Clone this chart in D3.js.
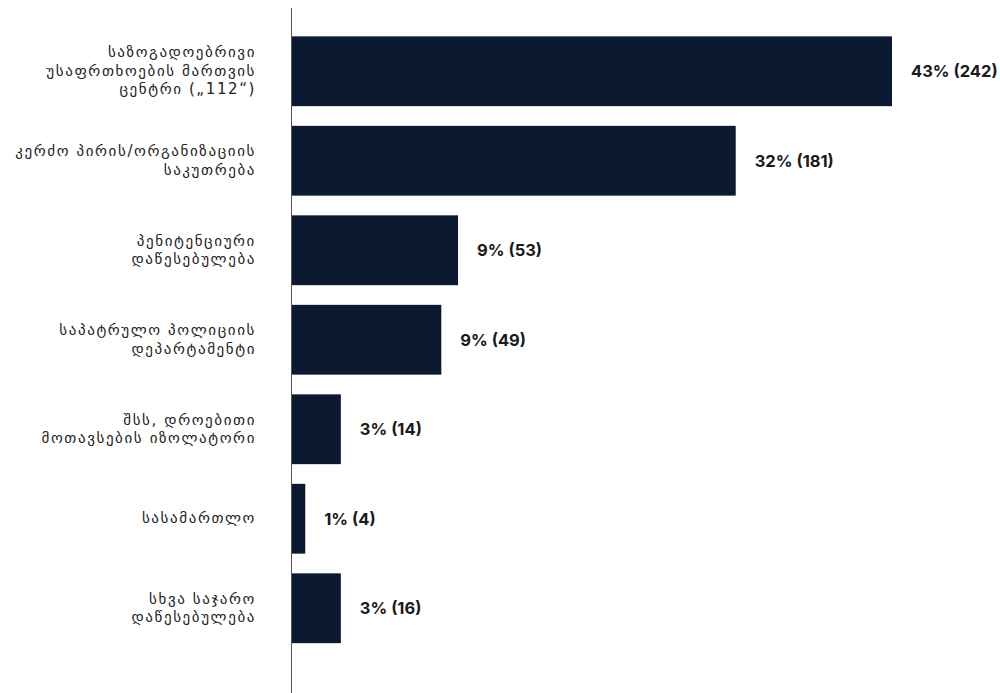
<!DOCTYPE html>
<html>
<head>
<meta charset="utf-8">
<script src="https://cdn.jsdelivr.net/npm/d3@7/dist/d3.min.js"></script>
<style>
  html, body { margin: 0; padding: 0; background: #ffffff; }
  svg { display: block; }
</style>
</head>
<body>
<svg id="chart" width="1000" height="693"></svg>
<script>
// Categories (line breaks marked with "\n")
const categories = [
  "საზოგადოებრივი\nუსაფრთხოების მართვის\nცენტრი („112“)",
  "კერძო პირის/ორგანიზაციის\nსაკუთრება",
  "პენიტენციური\nდაწესებულება",
  "საპატრულო პოლიციის\nდეპარტამენტი",
  "შსს, დროებითი\nმოთავსების იზოლატორი",
  "სასამართლო",
  "სხვა საჯარო\nდაწესებულება"
];
// Shown percentages and counts
const percents = [43, 32, 9, 9, 3, 1, 3];
const counts = [242, 181, 53, 49, 14, 4, 16];
// Bar lengths as drawn in the picture (in percent units)
const barValues = [43, 31.8, 11.9, 10.7, 3.5, 0.95, 3.5];

const svg = d3.select("#chart");
const axisX = 292;

const x = d3.scaleLinear().domain([0, 43]).range([axisX, 892]);
const y = d3.scaleBand()
  .domain(categories)
  .range([26.5, 653])
  .paddingInner(0.22)
  .paddingOuter(0.11);

const data = categories.map((c, i) => ({
  cat: c, pct: percents[i], count: counts[i], bar: barValues[i]
}));

// Bars
svg.append("g").selectAll("rect").data(data).join("rect")
  .attr("x", x(0))
  .attr("y", d => y(d.cat))
  .attr("width", d => x(d.bar) - x(0))
  .attr("height", y.bandwidth())
  .attr("fill", "#0b1a31");

// Axis line
svg.append("line")
  .attr("x1", axisX - 0.5).attr("x2", axisX - 0.5)
  .attr("y1", 8).attr("y2", 693)
  .attr("stroke", "#555").attr("stroke-width", 1);

// Category labels
const lineH = 18.5;
const catG = svg.append("g");
data.forEach(d => {
  const lines = d.cat.split("\n");
  const cy = y(d.cat) + y.bandwidth() / 2;
  const t = catG.append("text")
    .attr("text-anchor", "end")
    .attr("font-family", "'DejaVu Sans', sans-serif")
    .attr("font-size", 15)
    .attr("letter-spacing", 1.6)
    .attr("fill", "#222");
  lines.forEach((ln, j) => {
    t.append("tspan")
      .attr("x", 256)
      .attr("y", cy + (j - (lines.length - 1) / 2) * lineH)
      .attr("dy", "0.3em")
      .text(ln);
  });
});

// Value labels
svg.append("g").selectAll("text").data(data).join("text")
  .attr("x", d => x(d.bar) + 19)
  .attr("y", d => y(d.cat) + y.bandwidth() / 2)
  .attr("dy", "0.35em")
  .attr("font-family", "Inter, 'Noto Sans', sans-serif")
  .attr("font-weight", 700)
  .attr("font-size", 16.5)
  .attr("fill", "#1a1a1a")
  .text(d => `${d.pct}% (${d.count})`);
</script>
</body>
</html>
